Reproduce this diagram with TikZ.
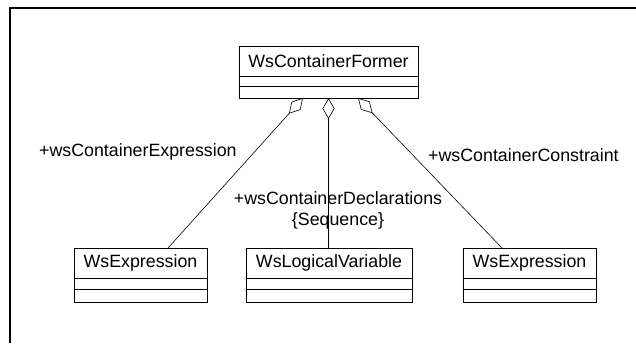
\documentclass[tikz,border=0pt]{standalone}
\usepackage{fontspec}
\setmainfont{Liberation Sans}
\usetikzlibrary{positioning,arrows.meta}

\begin{document}
\begin{tikzpicture}[x=1pt,y=-1pt,font=\fontsize{17.8}{21}\selectfont,
  classname/.style={draw=black,line width=0.9pt,inner sep=0pt,outer sep=0pt,minimum height=30pt},
  compartment/.style={draw=black,line width=0.9pt,inner sep=0pt,outer sep=0pt,minimum height=11pt},
  rolename/.style={inner sep=0pt},
  aggregation/.style={{Diamond[open,length=21pt,width=12pt]}-, line width=0.6pt}]
  \useasboundingbox (0,0) rectangle (636,343);
  % frame
  \draw [line width=1.5pt] (10,343) -- (10,8) -- (636,8);

  \node [classname,minimum width=179pt] (former) at (328.5,61) {WsContainerFormer};
  \node [compartment,minimum width=179pt,minimum height=10pt,below=0pt of former] (former_attr) {};
  \node [compartment,minimum width=179pt,minimum height=12pt,below=0pt of former_attr] (former_ops) {};

  \node [classname,minimum width=133pt] (exprL) at (140.5,263) {WsExpression};
  \node [compartment,minimum width=133pt,below=0pt of exprL] (exprL_attr) {};
  \node [compartment,minimum width=133pt,minimum height=13pt,below=0pt of exprL_attr] (exprL_ops) {};

  \node [classname,minimum width=166pt] (logvar) at (329,263) {WsLogicalVariable};
  \node [compartment,minimum width=166pt,below=0pt of logvar] (logvar_attr) {};
  \node [compartment,minimum width=166pt,minimum height=13pt,below=0pt of logvar_attr] (logvar_ops) {};

  \node [classname,minimum width=133pt] (exprR) at (529.5,263) {WsExpression};
  \node [compartment,minimum width=133pt,below=0pt of exprR] (exprR_attr) {};
  \node [compartment,minimum width=133pt,minimum height=13pt,below=0pt of exprR_attr] (exprR_ops) {};

  \draw [aggregation] ([xshift=-25.5pt]former_ops.south) -- ([xshift=27.5pt]exprL.north);
  \draw [aggregation] (former_ops.south) -- (former_ops.south |- logvar.north);
  \draw [aggregation] ([xshift=29.5pt]former_ops.south) -- ([xshift=-27.5pt]exprR.north);

  \node [rolename,anchor=west] (role_expr) at (39,152) {+wsContainerExpression};
  \node [rolename,align=center] (role_decl) at (338,210) {+wsContainerDeclarations\\\{Sequence\}};
  \node [rolename,anchor=west] (role_constr) at (428,155) {+wsContainerConstraint};
\end{tikzpicture}
\end{document}
